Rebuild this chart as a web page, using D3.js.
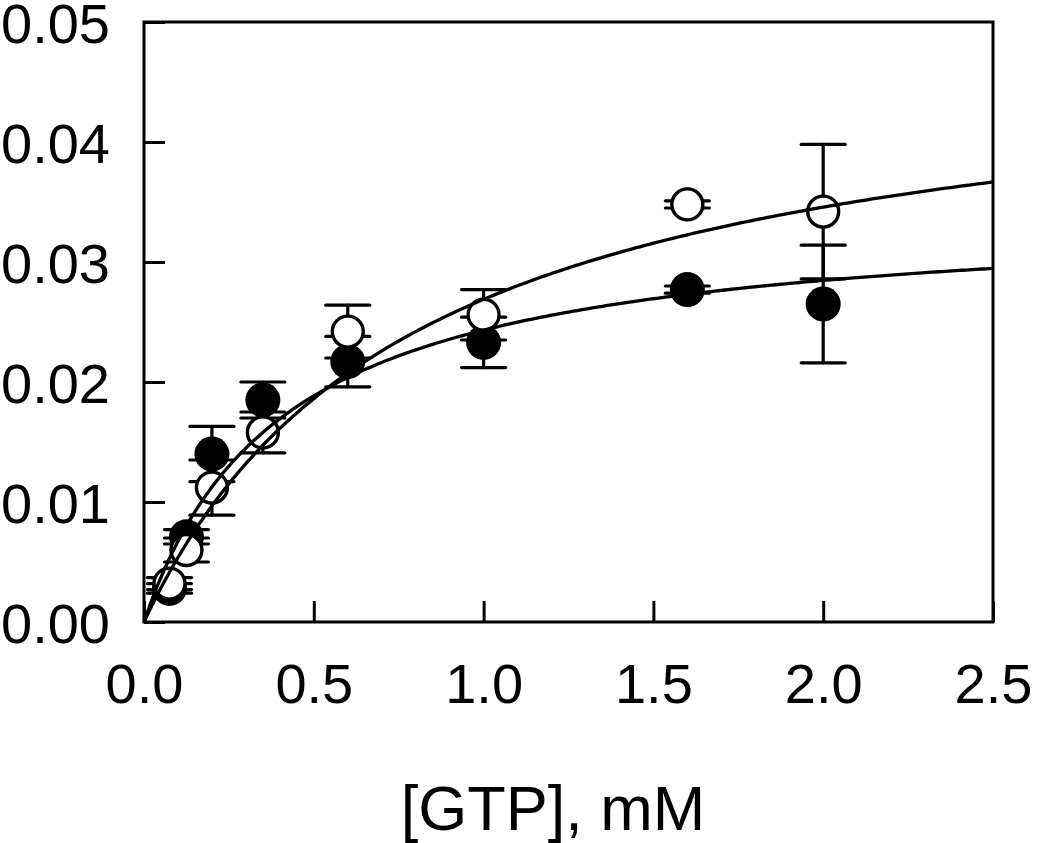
<!DOCTYPE html>
<html>
<head>
<meta charset="utf-8">
<script src="https://cdn.jsdelivr.net/npm/d3@7"></script>
<style>
  html, body { margin: 0; padding: 0; background: #fff; }
  svg { display: block; }
  text { font-family: "Liberation Sans", Arial, sans-serif; fill: #000; }
</style>
</head>
<body>
<svg id="chart" width="1050" height="843"></svg>
<script>
// ---- data ----
const xTicks = [0.0, 0.5, 1.0, 1.5, 2.0, 2.5];
const yTicks = [0.00, 0.01, 0.02, 0.03, 0.04, 0.05];
const xLabel = "[GTP], mM";

const gtp = [0.075, 0.125, 0.2, 0.35, 0.6, 1.0, 1.6, 2.0];
const filledY   = [0.0028, 0.0071, 0.0140, 0.0185, 0.0217, 0.0233, 0.0277, 0.0265];
const filledErr = [0.0004, 0.0006, 0.0023, 0.0015, 0.0021, 0.0021, 0.0003, 0.0049];
const openY     = [0.0032, 0.0060, 0.0112, 0.0158, 0.0242, 0.0256, 0.0348, 0.0342];
const openErr   = [0.0005, 0.0010, 0.0023, 0.0017, 0.0022, 0.0021, 0.0003, 0.0056];

// Michaelis-Menten fit parameters [Vmax, Km]
const filledFit = [0.0343, 0.41];
const openFit   = [0.0484, 0.80];

// ---- layout ----
const svg = d3.select("#chart");
const L = 144, R = 993, T = 22, B = 622;
const x = d3.scaleLinear().domain([0, 2.5]).range([L, R]);
const y = d3.scaleLinear().domain([0, 0.05]).range([B, T]);

// axes (ticks inward)
const xAxis = d3.axisBottom(x).tickValues(xTicks).tickSizeInner(-21).tickSizeOuter(0).tickFormat(d3.format(".1f"));
const yAxis = d3.axisLeft(y).tickValues(yTicks).tickSizeInner(-21).tickSizeOuter(0).tickFormat(d3.format(".2f"));

const gx = svg.append("g").attr("transform", `translate(0,${B})`).call(xAxis);
const gy = svg.append("g").attr("transform", `translate(${L},0)`).call(yAxis);
[gx, gy].forEach(g => {
  g.select(".domain").remove();
  g.selectAll(".tick line").attr("stroke", "#000").attr("stroke-width", 3);
  g.selectAll(".tick text").style("font-size", "56px").attr("fill", "#000");
});
gx.selectAll(".tick text").attr("y", 0).attr("dy", 0).attr("transform", "translate(0,81)");
gy.selectAll(".tick text").attr("x", -34).attr("dy", "0.36em");

// frame
svg.append("rect").attr("x", L).attr("y", T).attr("width", R - L).attr("height", B - T)
  .attr("fill", "none").attr("stroke", "#000").attr("stroke-width", 3);

// axis title
svg.append("text").attr("x", 553).attr("y", 830).attr("text-anchor", "middle")
  .style("font-size", "63px").text(xLabel);

// error bars
function errBars(ys, errs) {
  const g = svg.append("g").attr("stroke", "#000").attr("stroke-width", 3.2).attr("stroke-linecap", "round");
  gtp.forEach((gv, i) => {
    const cx = x(gv), hi = y(ys[i] + errs[i]), lo = y(ys[i] - errs[i]);
    g.append("line").attr("x1", cx).attr("x2", cx).attr("y1", hi).attr("y2", lo);
    g.append("line").attr("x1", cx - 22).attr("x2", cx + 22).attr("y1", hi).attr("y2", hi);
    g.append("line").attr("x1", cx - 22).attr("x2", cx + 22).attr("y1", lo).attr("y2", lo);
  });
}
errBars(filledY, filledErr);
errBars(openY, openErr);

// points
svg.append("g").selectAll("circle").data(gtp).join("circle")
  .attr("cx", d => x(d)).attr("cy", (d, i) => y(filledY[i])).attr("r", 17.5).attr("fill", "#000");
svg.append("g").selectAll("circle").data(gtp).join("circle")
  .attr("cx", d => x(d)).attr("cy", (d, i) => y(openY[i])).attr("r", 15.5)
  .attr("fill", "#fff").attr("stroke", "#000").attr("stroke-width", 3.4);

// fitted curves
const xs = d3.range(0, 2.5001, 0.01);
const line = d3.line().x(d => x(d[0])).y(d => y(d[1]));
[filledFit, openFit].forEach(p => {
  svg.append("path").datum(xs.map(v => [v, p[0] * v / (p[1] + v)]))
    .attr("d", line).attr("fill", "none").attr("stroke", "#000").attr("stroke-width", 3.3);
});
</script>
</body>
</html>
